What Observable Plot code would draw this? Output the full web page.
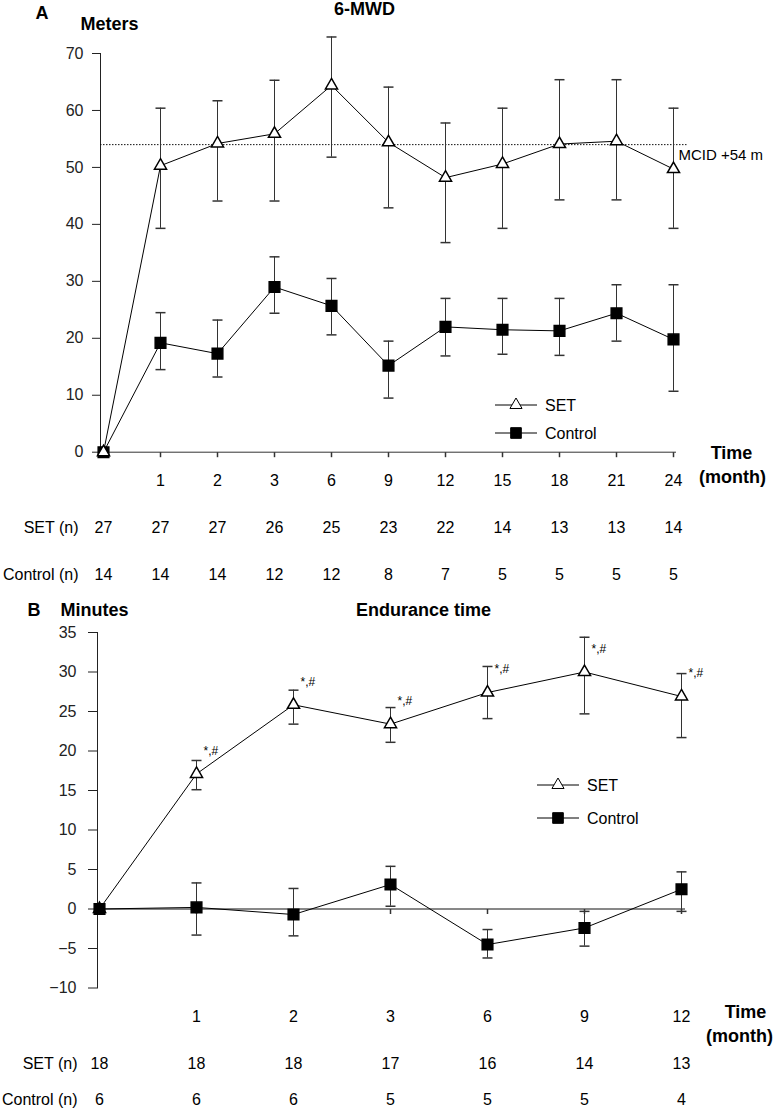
<!DOCTYPE html>
<html><head><meta charset="utf-8">
<script src="https://cdn.jsdelivr.net/npm/d3@7"></script>
<script src="https://cdn.jsdelivr.net/npm/@observablehq/plot@0.6"></script>
<style>
body{margin:0;background:#fff;}
#wrap{position:relative;width:775px;height:1110px;font-family:"Liberation Sans",Arial,sans-serif;}
#wrap svg{position:absolute;left:0;overflow:visible}
</style></head><body><div id="wrap"></div>
<script>
// ---------- Panel A: 6-MWD (meters) ----------
const monthsA = [0,1,2,3,6,9,12,15,18,21,24];
const setA    = [0,50.3,54.2,55.9,64.4,54.4,48.2,50.6,54.1,54.6,49.7];
const setAHi  = [0,60.4,61.7,65.3,72.9,64.1,57.8,60.4,65.4,65.4,60.4];
const setALo  = [0,39.3,44.1,44.1,51.8,42.9,36.8,39.3,44.3,44.3,39.3];
const ctrlA   = [0,19.2,17.3,29.0,25.7,15.2,22.0,21.5,21.3,24.4,19.8];
const ctrlAHi = [0,24.5,23.2,34.3,30.5,19.5,27.0,27.0,27.0,29.4,29.4];
const ctrlALo = [0,14.5,13.2,24.4,20.6,9.5,16.9,17.2,17.0,19.5,10.7];
const setNA   = [27,27,27,26,25,23,22,14,13,13,14];
const ctrlNA  = [14,14,14,12,12,8,7,5,5,5,5];
const mcid = 54;
const mcidLabel = "MCID +54 m";

// ---------- Panel B: Endurance time (minutes) ----------
const monthsB = [0,1,2,3,6,9,12];
const setB    = [0,17.1,25.85,23.4,27.4,30.0,26.9];
const setBHi  = [0,18.8,27.7,25.5,30.7,34.4,29.8];
const setBLo  = [0,15.1,23.4,21.1,24.1,24.7,21.7];
const ctrlB   = [0,0.2,-0.7,3.1,-4.5,-2.4,2.5];
const ctrlBHi = [0,3.3,2.6,5.4,-2.6,-0.3,4.7];
const ctrlBLo = [0,-3.3,-3.4,0.35,-6.2,-4.7,-0.3];
const setNB   = [18,18,18,17,16,14,13];
const ctrlNB  = [6,6,6,5,5,5,4];
const sigB    = ["","*,#","*,#","*,#","*,#","*,#","*,#"];

const seriesNames = ["SET","Control"];

// ---------- tables ----------
const rowsA = monthsA.map((m,i)=>({month:m,set:setA[i],setHi:setAHi[i],setLo:setALo[i],
  ctrl:ctrlA[i],ctrlHi:ctrlAHi[i],ctrlLo:ctrlALo[i],setN:setNA[i],ctrlN:ctrlNA[i]}));
const rowsB = monthsB.map((m,i)=>({month:m,set:setB[i],setHi:setBHi[i],setLo:setBLo[i],
  ctrl:ctrlB[i],ctrlHi:ctrlBHi[i],ctrlLo:ctrlBLo[i],setN:setNB[i],ctrlN:ctrlNB[i],sig:sigB[i],zero:0}));

const capSym  = {draw(ctx){ctx.moveTo(-5,0);ctx.lineTo(5,0);}};
const tickSym = {draw(ctx){ctx.moveTo(0,0);ctx.lineTo(0,5);}};
const FONT = '"Liberation Sans", Arial, sans-serif';
const triSize = 4.5*4.5*Math.PI, sqSize = 6*6*Math.PI;

function legend(x0, y0, gap){
  return () => {
    const g = d3.create("svg:g");
    seriesNames.forEach((name,i)=>{
      const y = y0 + i*gap;
      g.append("line").attr("x1",x0).attr("x2",x0+42).attr("y1",y).attr("y2",y).attr("stroke","#000");
      g.append("path")
        .attr("d", d3.symbol(i===0?d3.symbolTriangle:d3.symbolSquare, i===0?triSize:sqSize)())
        .attr("transform",`translate(${x0+21},${y})`)
        .attr("fill", i===0?"#fff":"#000").attr("stroke","#000");
      g.append("text").attr("x",x0+50).attr("y",y).attr("dy","0.35em")
        .attr("text-anchor","start")
        .attr("font-size",16).attr("fill","#000").text(name);
    });
    return g.node();
  };
}

function errMarks(rows, key, stroke){
  const e = rows.filter(d=>d[key+"Hi"]>d[key+"Lo"]);
  return [
    Plot.ruleX(e,{x:"month",y1:key+"Lo",y2:key+"Hi",stroke,strokeWidth:1}),
    Plot.dot(e,{x:"month",y:key+"Hi",symbol:capSym,stroke,fill:"none"}),
    Plot.dot(e,{x:"month",y:key+"Lo",symbol:capSym,stroke,fill:"none"})
  ];
}

const style = {fontFamily:FONT,fontSize:"16px",color:"#222",background:"transparent",overflow:"visible"};
const T = {fill:"#000", lineAnchor:"middle"};
const TB = {fill:"#000", lineAnchor:"middle", fontWeight:"bold", fontSize:18};

// ---------- Plot A ----------
const plotA = Plot.plot({
  width:775, height:590, marginLeft:100, marginRight:99, marginTop:53, marginBottom:138.3,
  style,
  x:{type:"point", domain:monthsA, range:[100,676], padding:0, axis:null},
  y:{domain:[0,70], ticks:7, tickSize:8, tickPadding:9, line:true, label:null},
  marks:[
    Plot.ruleY([mcid],{stroke:"#111",strokeDasharray:"1.5,1.5",insetRight:-12}),
    Plot.ruleY([0],{stroke:"#333"}),
    Plot.dot(monthsA.slice(1),{x:d=>d,frameAnchor:"bottom",symbol:tickSym,stroke:"#333",fill:"none"}),
    ...errMarks(rowsA,"set","#333"),
    ...errMarks(rowsA,"ctrl","#333"),
    Plot.line(rowsA,{x:"month",y:"set",stroke:"#000",strokeWidth:1}),
    Plot.line(rowsA,{x:"month",y:"ctrl",stroke:"#000",strokeWidth:1}),
    Plot.dot(rowsA,{x:"month",y:"ctrl",symbol:"square",r:6,fill:"#000",stroke:"#000"}),
    Plot.dot(rowsA,{x:"month",y:"set",symbol:"triangle",r:4.5,fill:"#fff",stroke:"#000"}),
    Plot.text([mcidLabel],{...T,text:d=>d,y:()=>mcid,frameAnchor:"right",dx:2,dy:11,textAnchor:"start",fontSize:15}),
    Plot.text(monthsA.slice(1),{...T,x:d=>d,text:d=>String(d),frameAnchor:"bottom",dy:29,textAnchor:"middle"}),
    Plot.text(rowsA,{...T,x:"month",text:"setN",frameAnchor:"bottom",dy:76,textAnchor:"middle"}),
    Plot.text(rowsA,{...T,x:"month",text:"ctrlN",frameAnchor:"bottom",dy:123,textAnchor:"middle"}),
    Plot.text(["SET (n)"],{...T,text:d=>d,frameAnchor:"bottom-left",dx:-22,dy:76,textAnchor:"end"}),
    Plot.text(["Control (n)"],{...T,text:d=>d,frameAnchor:"bottom-left",dx:-22,dy:123,textAnchor:"end"}),
    Plot.text(["Time"],{...TB,text:d=>d,frameAnchor:"bottom-right",dx:55,dy:1,textAnchor:"middle"}),
    Plot.text(["(month)"],{...TB,text:d=>d,frameAnchor:"bottom-right",dx:56,dy:25,textAnchor:"middle"}),
    Plot.text(["A"],{...TB,text:d=>d,frameAnchor:"top-left",dx:-65,dy:-40,textAnchor:"start"}),
    Plot.text(["Meters"],{...TB,text:d=>d,frameAnchor:"top-left",dx:-20,dy:-29,textAnchor:"start"}),
    Plot.text(["6-MWD"],{...TB,text:d=>d,frameAnchor:"top",dx:-24,dy:-44,textAnchor:"middle"}),
    legend(495,405,28)
  ]
});

// ---------- Plot B ----------
const plotB = Plot.plot({
  width:775, height:520, marginLeft:97, marginRight:93, marginTop:42, marginBottom:122.5,
  style,
  x:{type:"point", domain:monthsB, range:[97,682], padding:0, axis:null},
  y:{domain:[-10,35], ticks:9, tickSize:9, tickPadding:12, line:true, label:null},
  marks:[
    Plot.ruleY([0],{stroke:"#111",insetRight:-3}),
    Plot.dot(rowsB.slice(1),{x:"month",y:"zero",symbol:tickSym,stroke:"#333",fill:"none"}),
    ...errMarks(rowsB,"set","#333"),
    ...errMarks(rowsB,"ctrl","#333"),
    Plot.line(rowsB,{x:"month",y:"set",stroke:"#000",strokeWidth:1}),
    Plot.line(rowsB,{x:"month",y:"ctrl",stroke:"#000",strokeWidth:1}),
    Plot.dot(rowsB,{x:"month",y:"set",symbol:"triangle",r:4.5,fill:"#fff",stroke:"#000"}),
    Plot.dot(rowsB,{x:"month",y:"ctrl",symbol:"square",r:6,fill:"#000",stroke:"#000"}),
    Plot.text(rowsB.filter(d=>d.sig),{...T,x:"month",y:"set",text:"sig",dx:7,dy:-23,textAnchor:"start",fontSize:12}),
    Plot.text(monthsB.slice(1),{...T,x:d=>d,text:d=>String(d),frameAnchor:"bottom",dy:28.5,textAnchor:"middle"}),
    Plot.text(rowsB,{...T,x:"month",text:"setN",frameAnchor:"bottom",dy:75.5,textAnchor:"middle"}),
    Plot.text(rowsB,{...T,x:"month",text:"ctrlN",frameAnchor:"bottom",dy:111.5,textAnchor:"middle"}),
    Plot.text(["SET (n)"],{...T,text:d=>d,frameAnchor:"bottom-left",dx:-20,dy:75.5,textAnchor:"end"}),
    Plot.text(["Control (n)"],{...T,text:d=>d,frameAnchor:"bottom-left",dx:-20,dy:111.5,textAnchor:"end"}),
    Plot.text(["Time"],{...TB,text:d=>d,frameAnchor:"bottom-right",dx:63,dy:24.5,textAnchor:"middle"}),
    Plot.text(["(month)"],{...TB,text:d=>d,frameAnchor:"bottom-right",dx:57,dy:48.5,textAnchor:"middle"}),
    Plot.text(["B"],{...TB,text:d=>d,frameAnchor:"top-left",dx:-70,dy:-22,textAnchor:"start"}),
    Plot.text(["Minutes"],{...TB,text:d=>d,frameAnchor:"top-left",dx:-37,dy:-22,textAnchor:"start"}),
    Plot.text(["Endurance time"],{...TB,text:d=>d,frameAnchor:"top",dx:33.5,dy:-22,textAnchor:"middle"}),
    legend(537,195,33)
  ]
});

const wrap = document.getElementById("wrap");
plotA.style.top = "0px";
plotB.style.top = "590px";
wrap.append(plotA, plotB);
</script>
</body></html>
